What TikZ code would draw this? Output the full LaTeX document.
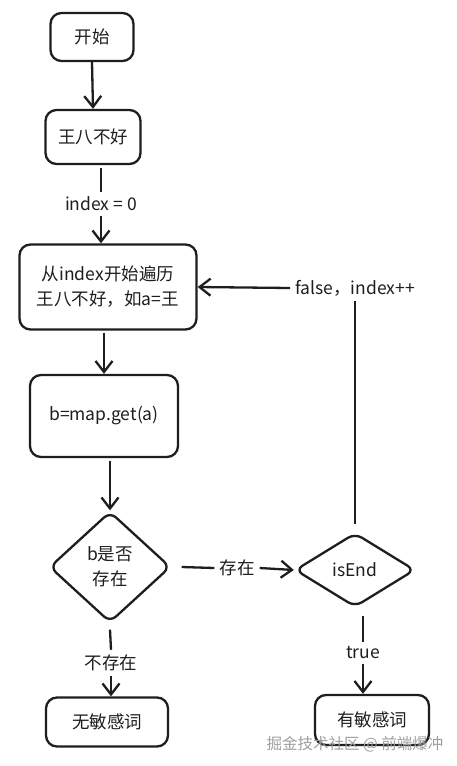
\documentclass[tikz,border=0pt]{standalone}
\usepackage{fontspec}
\setmainfont{Noto Sans CJK SC}
\usetikzlibrary{shapes.geometric,arrows.meta,calc}
\definecolor{ink}{HTML}{1E1E1E}
\begin{document}
\begin{tikzpicture}[x=1pt,y=-1pt,
  every node/.style={font=\fontsize{17.5}{25}\selectfont,text=ink},
  box/.style={draw=ink,line width=2.3pt,rounded corners=11pt,align=center,inner sep=0pt},
  dia/.style={draw=ink,diamond,line width=2.3pt,rounded corners=8pt,align=center,inner sep=0pt},
  lbl/.style={inner sep=5pt,fill=none},
  conn/.style={draw=ink,line width=2.3pt},
  arr/.style={draw=ink,line width=2.3pt,-{Straight Barb[length=11pt,width=17pt,line width=2.3pt]}}
]
\useasboundingbox (0,0) rectangle (457,766);
\fill[white] (0,0) rectangle (457,766);

\node[box,minimum width=83pt,minimum height=48pt] (start) at (92,37) {开始};
\node[box,minimum width=95pt,minimum height=54pt] (wang) at (93,137) {王八不好};
\node[box,minimum width=177pt,minimum height=85pt] (loop) at (108,287) {从index开始遍历\\王八不好，如a=王};
\node[box,minimum width=148pt,minimum height=82pt] (get) at (104,416) {b=map.get(a)};
\node[dia,minimum width=121pt,minimum height=111pt] (d1) at (110,567) {b是否\\存在};
\node[dia,minimum width=120pt,minimum height=74pt] (d2) at (355,570) {isEnd};
\node[box,minimum width=122pt,minimum height=49pt] (no) at (107,722) {无敏感词};
\node[box,minimum width=114pt,minimum height=50pt] (yes) at (372,720) {有敏感词};

\node[lbl] (idx) at (101,204) {index = 0};
\node[lbl] (ex) at (237,568) {存在};
\node[lbl] (nex) at (111,663) {不存在};
\node[lbl] (fl) at (355,288) {false，index++};
\node[lbl] (tr) at (363,653) {true};

\draw[arr] (start.south) -- (wang.north);
\draw[conn] (idx.north |- wang.south) ++(0,3) -- (idx.north);
\draw[arr] (idx.south) -- (idx.south |- loop.north);
\draw[arr] (loop.south -| get.north) ++(0,2) -- (get.north);
\draw[arr] (d1.north |- get.south) ++(0,3) -- (d1.north);
\draw[conn] ($(d1.east)+(10,0)$) -- (ex.west);
\draw[arr] (ex.east) -- (d2.west);
\draw[conn] ($(d1.south)+(0,6)$) -- (nex.north);
\draw[arr] (nex.south) -- (nex.south |- no.north);
\draw[conn] ($(d2.north)+(0,-8)$) -- (d2.north |- fl.south);
\draw[arr] (fl.west) -- (loop.east);
\draw[conn] ($(tr.north |- d2.south)+(0,8)$) -- (tr.north);
\draw[arr] (tr.south) -- (tr.south |- yes.north);

\node[text=gray!75,font=\fontsize{15.5}{18}\selectfont] (wm) at (355,744) {掘金技术社区 @ 前端爆冲};
\end{tikzpicture}
\end{document}
